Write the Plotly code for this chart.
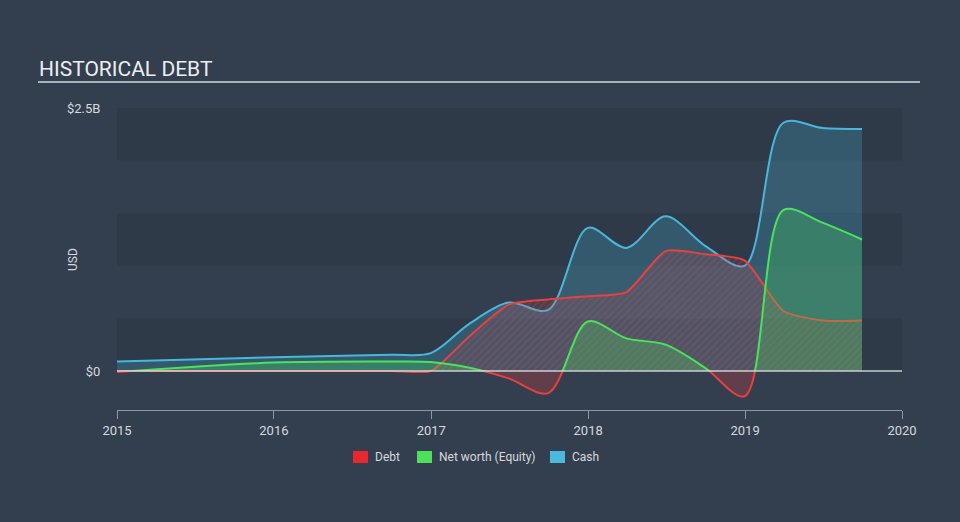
import plotly.graph_objects as go

# ---- data (USD billions) ----
dates = ["2015-01-01", "2016-01-01", "2016-09-30", "2016-12-31", "2017-03-31",
         "2017-06-30", "2017-09-30", "2017-12-31", "2018-03-31", "2018-06-30",
         "2018-09-30", "2018-12-31", "2019-03-31", "2019-06-30", "2019-09-30"]
cash = [0.09, 0.13, 0.155, 0.17, 0.45, 0.65, 0.58, 1.36, 1.17, 1.47, 1.19, 1.00, 2.36, 2.31, 2.30]
debt = [0.0, 0.0, 0.0, 0.0, 0.33, 0.63, 0.68, 0.71, 0.75, 1.14, 1.11, 1.05, 0.57, 0.48, 0.48]
equity = [-0.01, 0.08, 0.09, 0.085, 0.03, -0.07, -0.21, 0.47, 0.31, 0.25, 0.03, -0.24, 1.53, 1.41, 1.25]

year_ticks = ["2015", "2016", "2017", "2018", "2019", "2020"]
y_tickvals = [0, 2.5]
y_ticktext = ["$0", "$2.5B"]
legend_names = ["Debt", "Net worth (Equity)", "Cash"]

RED = "#e8413f"
GREEN = "#4be35b"
BLUE = "#49b6dc"
BG = "#333f4e"
BAND = "#2e3a48"
TXT = "#d6d9dd"

YMIN, YMAX = -0.371, 2.5
d0 = -YMIN / (YMAX - YMIN)

# plot-area pixel frame (for paper-coordinate decorations)
L, R, T, B = 117, 902, 108, 410
def px(xp):
    return (xp - L) / (R - L)
def py(yp):
    return (B - yp) / (B - T)

fig = go.Figure()

# Cash
fig.add_trace(go.Scatter(
    x=dates, y=cash, mode="lines",
    line=dict(color=BLUE, width=2, shape="spline", smoothing=0.9, simplify=False),
    fill="tozeroy", fillcolor="rgba(73,182,220,0.25)", showlegend=False, hoverinfo="skip"))

# Debt (hatched)
fig.add_trace(go.Scatter(
    x=dates, y=debt, mode="lines",
    line=dict(color=RED, width=2, shape="spline", smoothing=0.6, simplify=False),
    fill="tozeroy", fillcolor="rgba(232,65,63,0.12)",
    fillpattern=dict(shape="/", fgcolor="rgba(232,65,63,0.55)", bgcolor="rgba(232,65,63,0.12)",
                     size=5, solidity=0.3),
    showlegend=False, hoverinfo="skip"))

# Equity - negative part (clipped to region below zero)
fig.add_trace(go.Scatter(
    x=dates, y=equity, mode="lines", yaxis="y2",
    line=dict(color=RED, width=2, shape="spline", smoothing=0.9, simplify=False),
    fill="tozeroy", fillcolor="rgba(232,65,63,0.25)", showlegend=False, hoverinfo="skip"))

# Equity - positive part (clipped to region above zero)
fig.add_trace(go.Scatter(
    x=dates, y=equity, mode="lines", yaxis="y3",
    line=dict(color=GREEN, width=2, shape="spline", smoothing=0.9, simplify=False),
    fill="tozeroy", fillcolor="rgba(75,227,91,0.27)", showlegend=False, hoverinfo="skip"))

shapes = []
for y0, y1 in [(0, 0.5), (1.0, 1.5), (2.0, 2.5)]:
    shapes.append(dict(type="rect", xref="paper", yref="y", x0=0, x1=1, y0=y0, y1=y1,
                       fillcolor=BAND, line=dict(width=0), layer="below"))
shapes.append(dict(type="line", xref="paper", yref="y", x0=0, x1=1, y0=0, y1=0,
                   line=dict(color="rgba(225,228,232,0.85)", width=1.5), layer="above"))
# title underline
shapes.append(dict(type="line", xref="paper", yref="paper", x0=px(38), x1=px(920),
                   y0=py(82), y1=py(82), line=dict(color="#aab0b8", width=2)))

annotations = [dict(text="USD", textangle=-90, xref="paper", yref="paper",
                    x=px(73), y=py(260), xanchor="center", yanchor="middle",
                    showarrow=False, font=dict(size=12, color=TXT))]

# manual legend
leg_colors = ["#e8282c", "#4ee05a", "#4bb8e0"]
leg_x = [353, 417, 550]
for name, col, lx in zip(legend_names, leg_colors, leg_x):
    shapes.append(dict(type="rect", xref="paper", yref="paper",
                       x0=px(lx), x1=px(lx + 15), y0=py(463), y1=py(451),
                       fillcolor=col, line=dict(width=0)))
    annotations.append(dict(text=name, xref="paper", yref="paper", x=px(lx + 20), y=py(457),
                            xanchor="left", yanchor="middle", showarrow=False,
                            font=dict(size=12, color=TXT)))

fig.update_layout(
    width=960, height=522,
    paper_bgcolor=BG, plot_bgcolor="rgba(0,0,0,0)",
    margin=dict(l=L, r=960 - R, t=T, b=522 - B),
    font=dict(family="Roboto", color=TXT, size=12),
    title=dict(text="HISTORICAL DEBT", x=39 / 960, xanchor="left", xref="container",
               y=1 - 69 / 522, yanchor="middle", yref="container",
               font=dict(size=21, color="#eceef0", family="Roboto")),
    shapes=shapes,
    annotations=annotations,
    showlegend=False,
    xaxis=dict(type="date", range=["2015-01-01", "2020-01-01"],
               tickvals=[f"{y}-01-01" for y in year_ticks], ticktext=year_ticks,
               showgrid=False, zeroline=False, showline=True, linecolor="#8d97a3", linewidth=1,
               ticks="outside", ticklen=8, tickcolor="#8d97a3", automargin=False,
               tickfont=dict(size=13, color=TXT), fixedrange=True),
    yaxis=dict(range=[YMIN, YMAX], tickvals=y_tickvals, ticktext=y_ticktext,
               showgrid=False, zeroline=False, showline=False, automargin=False,
               ticks="outside", ticklen=13, tickcolor="rgba(0,0,0,0)",
               tickfont=dict(size=13, color=TXT), fixedrange=True),
    yaxis2=dict(domain=[0, d0], range=[YMIN, 0], visible=False, anchor="x", fixedrange=True),
    yaxis3=dict(domain=[d0, 1], range=[0, YMAX], visible=False, anchor="x", fixedrange=True),
)

fig.write_html("out.html")
